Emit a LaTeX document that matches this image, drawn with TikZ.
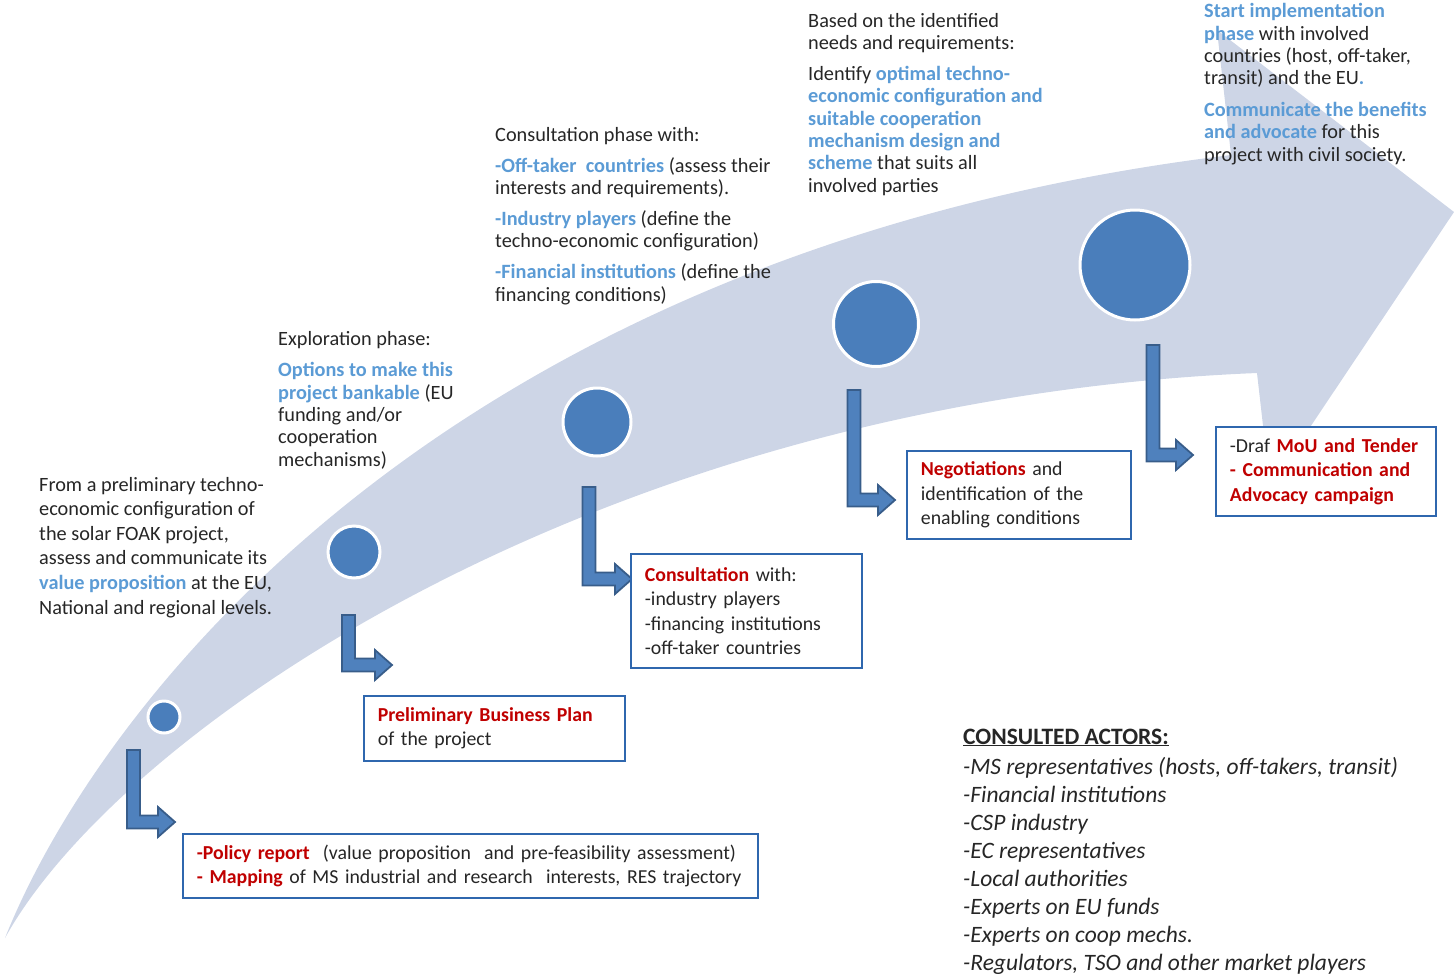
\documentclass[tikz,border=0pt]{standalone}
\usepackage{fontspec}
\setmainfont{Carlito}
\usepackage{tikz}
\usetikzlibrary{calc}
\definecolor{bandc}{HTML}{CDD5E6}
\definecolor{dotc}{HTML}{4A7EBB}
\definecolor{arrc}{HTML}{4F81BD}
\definecolor{arrd}{HTML}{385D8A}
\definecolor{boxc}{HTML}{2F67AE}
\definecolor{hlblue}{HTML}{5B9BD5}
\definecolor{hlred}{HTML}{C00000}
\definecolor{txt}{HTML}{262626}
\newcommand{\hlb}[1]{\textbf{\color{hlblue}#1}}
\newcommand{\hlr}[1]{\textbf{\color{hlred}#1}}
\newcommand{\bentarrow}[2]{\filldraw[bent]($(#1)+(-6.5,0)$)--($(#1)+(6.5,0)$)--($(#1|-#2)+(6.5,-6.5)$)--($(#2)+(-17,-6.5)$)--($(#2)+(-17,-15)$)--(#2)--($(#2)+(-17,15)$)--($(#2)+(-17,6.5)$)--($(#1|-#2)+(-6.5,6.5)$)--cycle;}

\begin{document}
\begin{tikzpicture}[x=1pt,y=-1pt,
    dot/.style={circle,fill=dotc,draw=white,line width=3pt,inner sep=0pt},
    bent/.style={fill=arrc,draw=arrd,line width=1.8pt,line join=miter},
    box/.style={draw=boxc,line width=1.8pt,fill=white,anchor=north west,inner xsep=14pt,inner ysep=0pt,align=left,text=txt,
      font=\fontsize{19.8}{24.5}\selectfont},
    txtn/.style={anchor=base west,inner sep=0pt,align=left,text=txt,font=\fontsize{20.3}{22.3}\selectfont}]
\useasboundingbox(0,0)rectangle(1454,977);
\fill[bandc](5,938)..controls(100,700)and(450,250)..(1231,155)--(1217,30)--(1454,212)--(1270,487)--(1257,373)
  ..controls(600,400)and(120,730)..(5,938)--cycle;

\node[dot,minimum size=32pt](c1)at(164,717){};
\node[dot,minimum size=52pt](c2)at(354,552){};
\node[dot,minimum size=68pt](c3)at(597,422){};
\node[dot,minimum size=85pt](c4)at(876,324){};
\node[dot,minimum size=110pt](c5)at(1135,265){};

\coordinate(a1)at(133.5,750);\coordinate(p1)at(175,822);
\coordinate(a2)at(348.5,615);\coordinate(p2)at(392,665);
\coordinate(a3)at(589,487);\coordinate(p3)at(632,579);
\coordinate(a4)at(854,390);\coordinate(p4)at(895,500);
\coordinate(a5)at(1153,345);\coordinate(p5)at(1193,455);
\bentarrow{a1}{p1}
\bentarrow{a2}{p2}
\bentarrow{a3}{p3}
\bentarrow{a4}{p4}
\bentarrow{a5}{p5}

\node[box,minimum width=575pt,minimum height=64pt,text width=547pt](b1)at(182,833){\hlr{-Policy report}\ \ (value proposition\ \ and pre-feasibility assessment)\\\hlr{- Mapping} of MS industrial and research\ \ interests, RES trajectory};
\node[box,minimum width=261pt,minimum height=65pt,text width=233pt](b2)at(363,695){\hlr{Preliminary Business Plan}\\of the project};
\node[box,minimum width=231pt,minimum height=114pt,text width=203pt](b3)at(630,553){\hlr{Consultation} with:\\-industry players\\-financing institutions\\-off-taker countries};
\node[box,minimum width=224pt,minimum height=88pt,text width=196pt](b4)at(906,450){\hlr{Negotiations} and\\identification of the\\enabling conditions};
\node[box,minimum width=220pt,minimum height=89pt,text width=192pt](b5)at(1215,426){-Draf \hlr{MoU and Tender}\\\hlr{- Communication and}\\\hlr{Advocacy campaign}};

% text nodes sit on the baseline of their last line
\node[txtn,font=\fontsize{20.3}{24.6}\selectfont](t1)at(39,614){From a preliminary techno-\\economic configuration of\\the solar FOAK project,\\assess and communicate its\\\hlb{value proposition}\ at the EU,\\National and regional levels.};
\node[txtn](t2)at(278,466){Exploration phase:\\[8.7pt]\hlb{Options to make this}\\\hlb{project bankable} (EU\\funding and/or\\cooperation\\mechanisms)};
\node[txtn](t3)at(495,301){Consultation phase with:\\[8.7pt]\hlb{-Off-taker\ \ countries} (assess their\\interests and requirements).\\[8.7pt]\hlb{-Industry players} (define the\\techno-economic configuration)\\[8.7pt]\hlb{-Financial institutions} (define the\\financing conditions)};
\node[txtn](t4)at(808,192){Based on the identified\\needs and requirements:\\[8.7pt]Identify \hlb{optimal techno-}\\\hlb{economic configuration and}\\\hlb{suitable cooperation}\\\hlb{mechanism design and}\\\hlb{scheme} that suits all\\involved parties};
\node[txtn](t5)at(1204,161){\hlb{Start implementation}\\\hlb{phase} with involved\\countries (host, off-taker,\\transit) and the EU\hlb{.}\\[9.5pt]\hlb{Communicate the benefits}\\\hlb{and advocate} for this\\project with civil society.};

\node[txtn,font=\fontsize{23.5}{28}\selectfont](actors)at(963,970){\textbf{\underline{CONSULTED ACTORS:}}\\[2pt]\itshape -MS representatives (hosts, off-takers, transit)\\\itshape -Financial\ institutions\\\itshape -CSP industry\\\itshape -EC representatives\\\itshape -Local authorities\\\itshape -Experts on EU funds\\\itshape -Experts on coop\ mechs.\\\itshape -Regulators, TSO and other market players};
\end{tikzpicture}
\end{document}
